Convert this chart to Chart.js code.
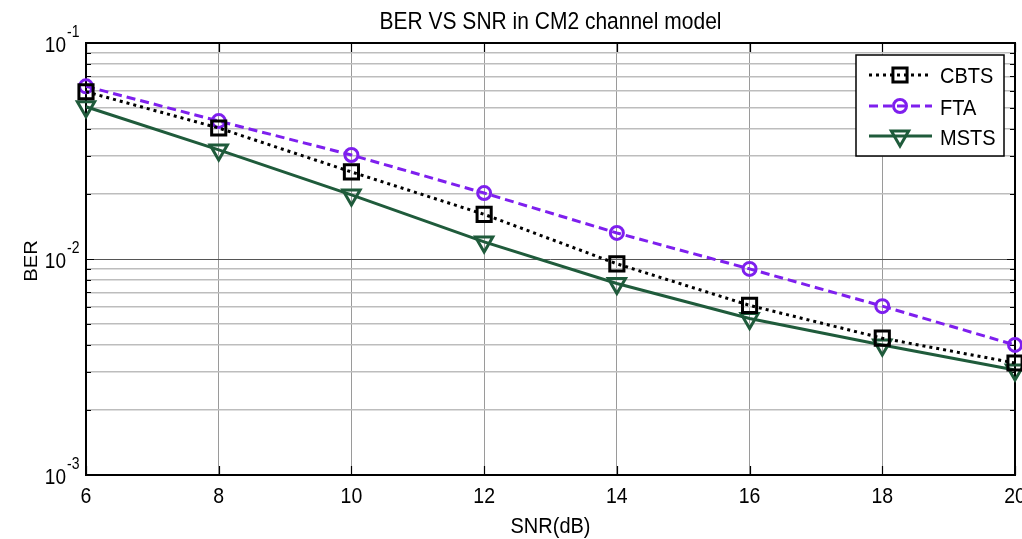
<!DOCTYPE html>
<html>
<head>
<meta charset="utf-8">
<script src="https://cdn.jsdelivr.net/npm/chart.js@4.4.1/dist/chart.umd.min.js"></script>
<style>
  html, body { margin: 0; padding: 0; background: #fff; }
  #wrap { width: 1022px; height: 539px; }
</style>
</head>
<body>
<div id="wrap"><canvas id="c" width="1022" height="539"></canvas></div>
<script>
const snr = [6, 8, 10, 12, 14, 16, 18, 20];
const cbts = [0.0595, 0.0404, 0.0253, 0.0161, 0.0095, 0.0061, 0.0043, 0.0033];
const fta = [0.063, 0.0435, 0.0303, 0.0202, 0.0132, 0.0090, 0.00605, 0.0040];
const msts = [0.0507, 0.032, 0.0198, 0.012, 0.0077, 0.0053, 0.0040, 0.00306];
const xTicks = [6, 8, 10, 12, 14, 16, 18, 20];
const yDecades = [1e-3, 1e-2, 1e-1];
const yDecadeLabels = [['10', '-3'], ['10', '-2'], ['10', '-1']];
const seriesNames = ['CBTS', 'FTA', 'MSTS'];
const chartTitle = 'BER VS SNR in CM2 channel model';
const xTitle = 'SNR(dB)';
const yTitle = 'BER';

const FONT = "'Liberation Sans', Arial, sans-serif";
const COLORS = ['#000000', '#7e1fee', '#1f5b3b'];
const SY = 1.12;

function pts(arr) { return snr.map((x, i) => ({ x: x, y: arr[i] })); }

const yAllTicks = [];
yDecades.forEach((d, k) => {
  if (k === yDecades.length - 1) { yAllTicks.push(d); return; }
  for (let m = 1; m <= 9; m++) yAllTicks.push(+(m * d).toPrecision(3));
});
function isDecade(v) { return yDecades.some(d => Math.abs(v - d) / d < 1e-6); }

const datasetStyles = [
  { borderDash: [3, 4], pointStyle: 'rect', pointRadius: 10, pointRotation: 0 },
  { borderDash: [9, 5], pointStyle: 'circle', pointRadius: 6.5, pointRotation: 0 },
  { borderDash: [], pointStyle: 'triangle', pointRadius: 10, pointRotation: 180 }
];

const dataSeries = [cbts, fta, msts];
const datasets = dataSeries.map((arr, i) => ({
  label: seriesNames[i],
  data: pts(arr),
  borderColor: COLORS[i],
  backgroundColor: 'rgba(0,0,0,0)',
  borderWidth: 3,
  borderDash: datasetStyles[i].borderDash,
  pointStyle: datasetStyles[i].pointStyle,
  pointRadius: datasetStyles[i].pointRadius,
  pointRotation: datasetStyles[i].pointRotation,
  pointBorderWidth: 3,
  pointBorderColor: COLORS[i],
  pointBackgroundColor: 'rgba(0,0,0,0)',
  pointHoverRadius: datasetStyles[i].pointRadius,
  tension: 0,
  clip: false
}));

function drawMarker(ctx, style, x, y, r, rot) {
  ctx.beginPath();
  if (style === 'rect') {
    const s = r * Math.SQRT1_2;
    ctx.rect(x - s, y - s, 2 * s, 2 * s);
  } else if (style === 'circle') {
    ctx.arc(x, y, r, 0, Math.PI * 2);
  } else {
    let rad = rot * Math.PI / 180;
    ctx.moveTo(x + Math.sin(rad) * r, y - Math.cos(rad) * r);
    rad += 2 * Math.PI / 3;
    ctx.lineTo(x + Math.sin(rad) * r, y - Math.cos(rad) * r);
    rad += 2 * Math.PI / 3;
    ctx.lineTo(x + Math.sin(rad) * r, y - Math.cos(rad) * r);
    ctx.closePath();
  }
  ctx.stroke();
}

function sText(ctx, text, x, y, size, align) {
  ctx.save();
  ctx.translate(x, y);
  ctx.scale(1, SY);
  ctx.font = size + 'px ' + FONT;
  ctx.textAlign = align;
  ctx.textBaseline = 'alphabetic';
  ctx.fillText(text, 0, 0);
  ctx.restore();
}

const framePlugin = {
  id: 'frame',
  beforeDatasetsDraw(chart) {
    const { ctx, chartArea: a, scales } = chart;
    ctx.save();
    ctx.strokeStyle = '#000';
    ctx.lineWidth = 1.2;
    yAllTicks.forEach(v => {
      const y = Math.round(scales.y.getPixelForValue(v)) + 0.5;
      const len = isDecade(v) ? 8 : 5;
      ctx.beginPath();
      ctx.moveTo(a.left, y); ctx.lineTo(a.left + len, y);
      ctx.moveTo(a.right, y); ctx.lineTo(a.right - len, y);
      ctx.stroke();
    });
    xTicks.forEach(v => {
      const x = Math.round(scales.x.getPixelForValue(v)) + 0.5;
      ctx.beginPath();
      ctx.moveTo(x, a.bottom); ctx.lineTo(x, a.bottom - 9);
      ctx.moveTo(x, a.top); ctx.lineTo(x, a.top + 9);
      ctx.stroke();
    });
    ctx.lineWidth = 2;
    ctx.strokeRect(a.left, a.top, a.right - a.left, a.bottom - a.top);
    ctx.restore();
  },
  afterDraw(chart) {
    const { ctx, chartArea: a, scales } = chart;
    ctx.save();
    ctx.fillStyle = '#000';
    sText(ctx, chartTitle, (a.left + a.right) / 2, 28.5, 21, 'center');
    xTicks.forEach(v => {
      sText(ctx, String(v), scales.x.getPixelForValue(v), 503, 19.5, 'center');
    });
    sText(ctx, xTitle, (a.left + a.right) / 2, 533, 20, 'center');
    yDecades.forEach((d, i) => {
      const y = scales.y.getPixelForValue(d);
      sText(ctx, yDecadeLabels[i][0], 66, y + 8.5, 19, 'right');
      sText(ctx, yDecadeLabels[i][1], 67, y - 6, 14, 'left');
    });
    ctx.save();
    ctx.translate(37, (a.top + a.bottom) / 2 + 2);
    ctx.rotate(-Math.PI / 2);
    ctx.scale(SY, 1);
    ctx.font = '18px ' + FONT;
    ctx.textAlign = 'center';
    ctx.textBaseline = 'alphabetic';
    ctx.fillText(yTitle, 0, 0);
    ctx.restore();
    const bx = 856, by = 55, bw = 148, bh = 101;
    ctx.fillStyle = '#fff';
    ctx.fillRect(bx, by, bw, bh);
    ctx.strokeStyle = '#000';
    ctx.lineWidth = 1.5;
    ctx.strokeRect(bx, by, bw, bh);
    const rows = [75, 106, 136];
    const bases = [83.3, 115, 145];
    chart.data.datasets.forEach((ds, i) => {
      const y = rows[i];
      ctx.strokeStyle = ds.borderColor;
      ctx.lineWidth = 3;
      ctx.setLineDash(ds.borderDash);
      ctx.beginPath();
      ctx.moveTo(869, y); ctx.lineTo(932, y);
      ctx.stroke();
      ctx.setLineDash([]);
      drawMarker(ctx, ds.pointStyle, 900, y, ds.pointRadius, ds.pointRotation);
      ctx.fillStyle = '#000';
      sText(ctx, ds.label, 940, bases[i], 20, 'left');
    });
    ctx.restore();
  }
};

new Chart(document.getElementById('c'), {
  type: 'line',
  data: { datasets: datasets },
  options: {
    responsive: false,
    animation: false,
    devicePixelRatio: 1,
    layout: { autoPadding: false, padding: { left: 86, right: 7, top: 43, bottom: 64 } },
    plugins: {
      legend: { display: false },
      tooltip: { enabled: false },
      title: { display: false }
    },
    scales: {
      x: {
        type: 'linear',
        min: 6,
        max: 20,
        afterBuildTicks: (s) => { s.ticks = xTicks.map(v => ({ value: v })); },
        ticks: { display: false },
        grid: { color: '#9a9a9a', lineWidth: 1, drawTicks: false },
        border: { display: false },
        title: { display: false }
      },
      y: {
        type: 'logarithmic',
        min: 1e-3,
        max: 1e-1,
        afterBuildTicks: (s) => { s.ticks = yAllTicks.map(v => ({ value: v })); },
        ticks: { display: false },
        grid: {
          drawTicks: false,
          color: (c) => (c.tick && isDecade(c.tick.value)) ? '#555555' : '#bdbdbd',
          lineWidth: (c) => (c.tick && isDecade(c.tick.value)) ? 1 : 1.5
        },
        border: { display: false },
        title: { display: false }
      }
    }
  },
  plugins: [framePlugin]
});
</script>
</body>
</html>
